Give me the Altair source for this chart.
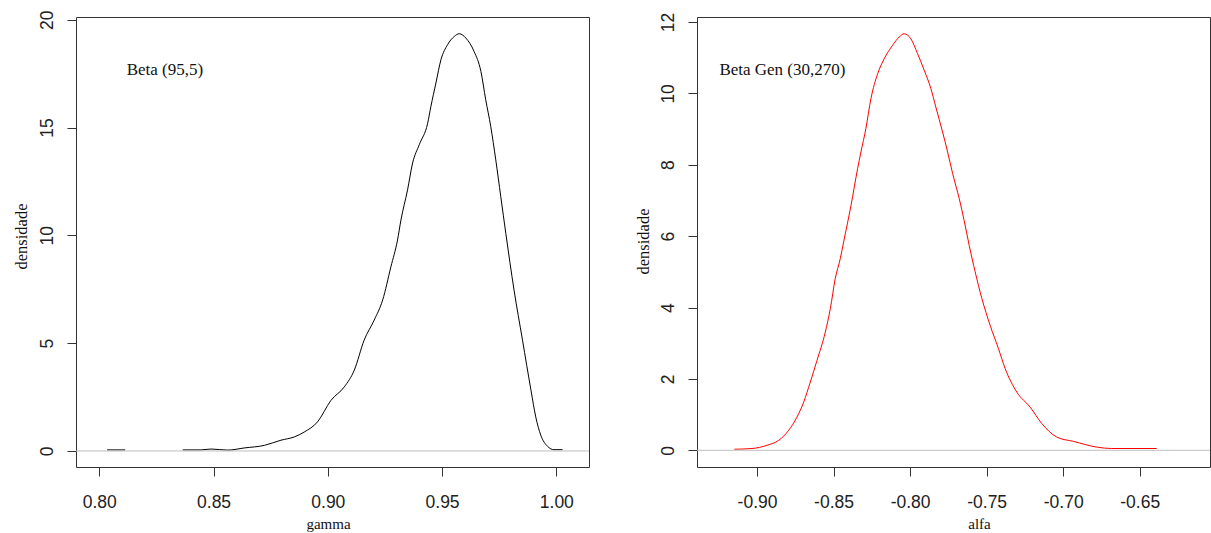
import altair as alt
import pandas as pd

# ---- data ----
# segment id: the curve is hidden under the zero line between 0.8113 and 0.8365
gamma_seg = [0, 0] + [1] * 45
gamma_x = [0.8034, 0.8113, 0.8365, 0.8445, 0.8489, 0.8562, 0.8634, 0.8722,
           0.8795, 0.8853, 0.8897, 0.8955, 0.9014, 0.9072, 0.9116, 0.9159, 0.9203, 0.9240,
           0.9276, 0.9305, 0.9320, 0.9349, 0.9371, 0.9400, 0.9437, 0.9451, 0.9473, 0.9495,
           0.9524, 0.9553, 0.9575, 0.9604, 0.9640, 0.9670, 0.9691, 0.9713, 0.9735, 0.9757,
           0.9779, 0.9815, 0.9852, 0.9889, 0.9910, 0.9932, 0.9961, 0.9990, 1.0027]
gamma_d = [0.05, 0.05, 0.05, 0.05, 0.09, 0.04, 0.14, 0.26,
           0.50, 0.65, 0.88, 1.35, 2.35, 2.97, 3.75, 5.14, 6.07, 7.00,
           8.54, 9.78, 10.71, 12.11, 13.35, 14.20, 15.20, 15.97, 17.06, 18.14,
           18.84, 19.22, 19.35, 19.15, 18.53, 17.60, 16.29, 15.05, 13.50, 11.79,
           10.09, 7.46, 5.14, 2.82, 1.58, 0.73, 0.22, 0.06, 0.06]

alfa_x = [-0.9148, -0.9033, -0.8935, -0.8858, -0.8793, -0.8739, -0.8695, -0.8652, -0.8608, -0.8554,
          -0.8521, -0.8489, -0.8456, -0.8434, -0.8386, -0.8343, -0.8321, -0.8289, -0.8256, -0.8212,
          -0.8169, -0.8114, -0.8071, -0.8039, -0.7995, -0.7951, -0.7908, -0.7864, -0.7832, -0.7788,
          -0.7755, -0.7722, -0.7679, -0.7647, -0.7614, -0.7575, -0.7531, -0.7477, -0.7423, -0.7379,
          -0.7303, -0.7216, -0.7140, -0.7042, -0.6933, -0.6781, -0.6683, -0.6389]
alfa_d = [0.03, 0.05, 0.14, 0.28, 0.56, 0.93, 1.35, 1.91, 2.52, 3.31,
          3.97, 4.81, 5.37, 5.84, 6.86, 7.89, 8.36, 9.01, 9.85, 10.55,
          10.97, 11.35, 11.58, 11.67, 11.53, 11.11, 10.65, 10.13, 9.62, 8.92,
          8.36, 7.75, 7.05, 6.44, 5.74, 5.00, 4.25, 3.50, 2.85, 2.29,
          1.63, 1.21, 0.75, 0.37, 0.25, 0.09, 0.05, 0.05]
alfa_seg = [0] * len(alfa_x)

gamma_xticks = [0.80, 0.85, 0.90, 0.95, 1.00]
gamma_yticks = [0, 5, 10, 15, 20]
alfa_xticks = [-0.90, -0.85, -0.80, -0.75, -0.70, -0.65]
alfa_yticks = [0, 2, 4, 6, 8, 10, 12]

gamma_xdomain = [0.7898, 1.0143]
gamma_ydomain = [-0.743, 20.125]
alfa_xdomain = [-0.9392, -0.6041]
alfa_ydomain = [-0.468, 12.14]

panel_labels = ["Beta (95,5)", "Beta Gen (30,270)"]
label_x = [0.8287, -0.8834]
label_y = [17.68, 10.65]

x_titles = ["gamma", "alfa"]
y_title = "densidade"

W, H = 513, 450
MINUS_FIX = "replace(datum.label, '\u2212', '-')"


def panel(xs, ds, segs, color, xdom, ydom, xticks, yticks, xtitle, xtitle_x, ytitle_x, ytitle_y,
          lab, lx, ly):
    df = pd.DataFrame({"x": xs, "d": ds, "seg": segs})
    one = pd.DataFrame({"lx": [lx], "ly": [ly], "lab": [lab], "zero": [0]})
    xsc = alt.Scale(domain=xdom, nice=False, zero=False)
    ysc = alt.Scale(domain=ydom, nice=False, zero=False)
    xaxis = alt.Axis(values=xticks, format=".2f", labelExpr=MINUS_FIX, title=xtitle,
                     domain=False, grid=False, tickSize=9, tickColor="#333", tickWidth=1,
                     labelFont="Liberation Sans", labelFontSize=17.5, labelColor="#222",
                     labelBaseline="middle", labelPadding=26, labelFlush=False,
                     titleFont="Liberation Serif", titleFontSize=15, titleFontWeight="normal",
                     titleColor="#111", titleBaseline="alphabetic", titleAlign="center",
                     titleX=xtitle_x, titleY=61.5)
    yaxis = alt.Axis(values=yticks, format="d", title=y_title,
                     domain=False, grid=False, tickSize=9, tickColor="#333", tickWidth=1,
                     labelFont="Liberation Sans", labelFontSize=17.5, labelColor="#222",
                     labelAngle=270, labelAlign="center", labelBaseline="middle",
                     labelPadding=20, labelFlush=False,
                     titleFont="Liberation Serif", titleFontSize=16.5, titleFontWeight="normal",
                     titleColor="#111", titleAngle=270, titleBaseline="alphabetic",
                     titleAlign="center", titleX=ytitle_x, titleY=ytitle_y)
    line = alt.Chart(df).mark_line(color=color, strokeWidth=1, interpolate="monotone").encode(
        x=alt.X("x:Q", scale=xsc, axis=xaxis),
        y=alt.Y("d:Q", scale=ysc, axis=yaxis),
        detail="seg:N",
    )
    zero = alt.Chart(one).mark_rule(color="#bebebe", strokeWidth=1).encode(y=alt.Y("zero:Q"))
    txt = alt.Chart(one).mark_text(font="Liberation Serif", fontSize=17, color="#111",
                                   fontWeight="normal", align="center", baseline="middle").encode(
        x=alt.X("lx:Q"), y=alt.Y("ly:Q"), text="lab:N")
    return alt.layer(line, zero, txt).properties(width=W, height=H)


left = panel(gamma_x, gamma_d, gamma_seg, "#000000", gamma_xdomain, gamma_ydomain, gamma_xticks,
             gamma_yticks, x_titles[0], 252, -50, 219, panel_labels[0], label_x[0], label_y[0])
right = panel(alfa_x, alfa_d, alfa_seg, "#ff0000", alfa_xdomain, alfa_ydomain, alfa_xticks,
              alfa_yticks, x_titles[1], 282, -49, 224, panel_labels[1], label_x[1], label_y[1])

chart = alt.hconcat(left, right, spacing=108, bounds="flush").properties(
    padding={"left": 12, "top": 9, "right": 0, "bottom": 0},
    background="white",
).configure_view(stroke="#333", strokeWidth=1)

chart.save("out.html", embed_options={"renderer": "svg", "actions": False})
